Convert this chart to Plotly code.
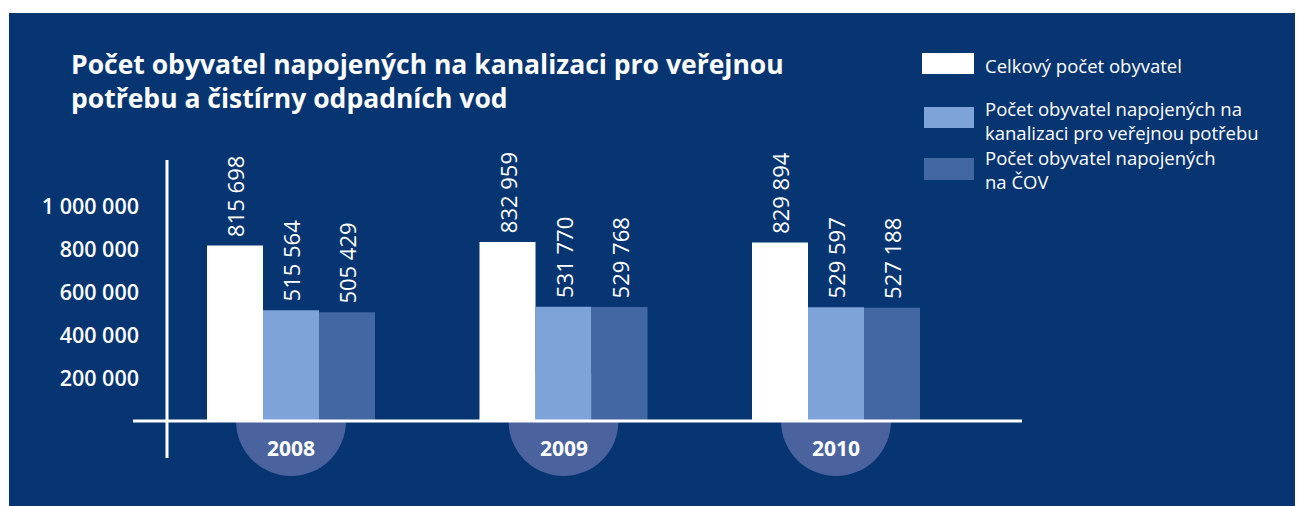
import plotly.graph_objects as go

# ---- data ----
years = ["2008", "2009", "2010"]
series_names = [
    "Celkový počet obyvatel",
    "Počet obyvatel napojených na kanalizaci pro veřejnou potřebu",
    "Počet obyvatel napojených na ČOV",
]
celkem = [815698, 832959, 829894]
kanalizace = [515564, 531770, 529597]
cov = [505429, 529768, 527188]
ytick_vals = [200000, 400000, 600000, 800000, 1000000]
ytick_text = ["200 000", "400 000", "600 000", "800 000", "1 000 000"]
legend_lines = [
    ["Celkový počet obyvatel"],
    ["Počet obyvatel napojených na", "kanalizaci pro veřejnou potřebu"],
    ["Počet obyvatel napojených", "na ČOV"],
]
title_lines = [
    "Počet obyvatel napojených na kanalizaci pro veřejnou",
    "potřebu a čistírny odpadních vod",
]

# ---- style ----
BG = "#073572"
COLORS = ["#ffffff", "#7ea3d8", "#4367a3"]
CIRCLE = "#4a629e"
FONT = "Open Sans, sans-serif"
SCREEN_W, SCREEN_H = 1303, 506
OFF = 8                      # page body margin
W, H = SCREEN_W - OFF, SCREEN_H - OFF
# plot area in screen px: x 167..1022, y 150..480
L, R, T, B = 167 - OFF, W - (1022 - OFF), 150 - OFF, H - (480 - OFF)
PW, PH = W - L - R, H - T - B
ZERO_PX = 421 - OFF
K = 0.000215                 # px per unit
GROUP_PX = 272.5             # px per category step
FIRST_CENTER_PX = 291 - OFF
BAR_PX = 56

y_lo = -(H - B - ZERO_PX) / K
y_hi = (ZERO_PX - T) / K
x_lo = -(FIRST_CENTER_PX - L) / GROUP_PX
x_hi = x_lo + PW / GROUP_PX


def fmt(v):
    return f"{v:,}".replace(",", " ")


def px_x(sx):  # screen px -> paper
    return (sx - OFF - L) / PW


def px_y(sy):
    return (H - B - (sy - OFF)) / PH


xpos = list(range(len(years)))
fig = go.Figure()
for name, vals, col in zip(series_names, [celkem, kanalizace, cov], COLORS):
    fig.add_trace(go.Bar(
        x=xpos, y=vals, name=name, marker=dict(color=col, line=dict(width=0)),
        text=["\u00a0" + fmt(v) for v in vals], textposition="outside", textangle=-90,
        constraintext="none",
        textfont=dict(family=FONT, size=22, color="white"), cliponaxis=False,
        showlegend=False,
    ))

shapes = []
# background panel (white strip on top/left as in the reference)
shapes.append(dict(type="rect", xref="paper", yref="paper", x0=px_x(9), x1=px_x(SCREEN_W + 20),
                   y0=px_y(SCREEN_H + 20), y1=px_y(13), fillcolor=BG, line=dict(width=0),
                   layer="below"))
r_x = 55 / GROUP_PX
r_y = 55 / K
for g in xpos:
    shapes.append(dict(type="circle", xref="x", yref="y", x0=g - r_x, x1=g + r_x,
                       y0=-r_y, y1=r_y, fillcolor=CIRCLE, line=dict(width=0), layer="below"))
# axis lines
shapes.append(dict(type="line", xref="paper", yref="y", x0=px_x(133), x1=px_x(1022), y0=0, y1=0,
                   line=dict(color="white", width=3), layer="above"))
shapes.append(dict(type="line", xref="paper", yref="paper", x0=px_x(167), x1=px_x(167),
                   y0=px_y(160), y1=px_y(458), line=dict(color="white", width=3), layer="above"))
# legend swatches
sw = [(922, 53, 974, 74), (924, 107, 974, 128), (924, 158, 974, 180)]
for (x0, y0, x1, y1), col in zip(sw, COLORS):
    shapes.append(dict(type="rect", xref="paper", yref="paper", x0=px_x(x0), x1=px_x(x1),
                       y0=px_y(y1), y1=px_y(y0), fillcolor=col, line=dict(width=0)))

annotations = []
for g, yr in zip(xpos, years):
    annotations.append(dict(x=g, y=0, xref="x", yref="y", yshift=-27, text=yr, showarrow=False,
                            font=dict(family=FONT, size=21, color="white", weight="bold"),
                            xanchor="center", yanchor="middle"))
leg_y = [66, 120.5, 170]
for lines, yy in zip(legend_lines, leg_y):
    annotations.append(dict(x=px_x(984), y=px_y(yy), xref="paper", yref="paper",
                            text="<br>".join(lines), align="left", borderpad=0,
                            showarrow=False, xanchor="left", yanchor="middle",
                            font=dict(family=FONT, size=18.5, color="white")))
annotations.append(dict(x=px_x(70), y=px_y(81), xref="paper", yref="paper",
                        text="<br>".join(title_lines), align="left", borderpad=0,
                        showarrow=False, xanchor="left", yanchor="middle",
                        font=dict(family=FONT, size=26.5, color="white", weight="bold")))

fig.update_layout(
    width=W, height=H, margin=dict(l=L, r=R, t=T, b=B, pad=0),
    paper_bgcolor="white", plot_bgcolor="rgba(0,0,0,0)",
    barmode="group", bargap=1 - 3 * BAR_PX / GROUP_PX, bargroupgap=0,
    xaxis=dict(range=[x_lo, x_hi], showgrid=False, zeroline=False, showticklabels=False,
               showline=False, ticks=""),
    yaxis=dict(range=[y_lo, y_hi], showgrid=False, zeroline=False, showline=False,
               tickvals=ytick_vals, ticktext=ytick_text, ticks="", ticklabelstandoff=27,
               tickfont=dict(family=FONT, size=21.5, color="white", weight=600)),
    shapes=shapes, annotations=annotations,
)
fig.write_html("out.html")
